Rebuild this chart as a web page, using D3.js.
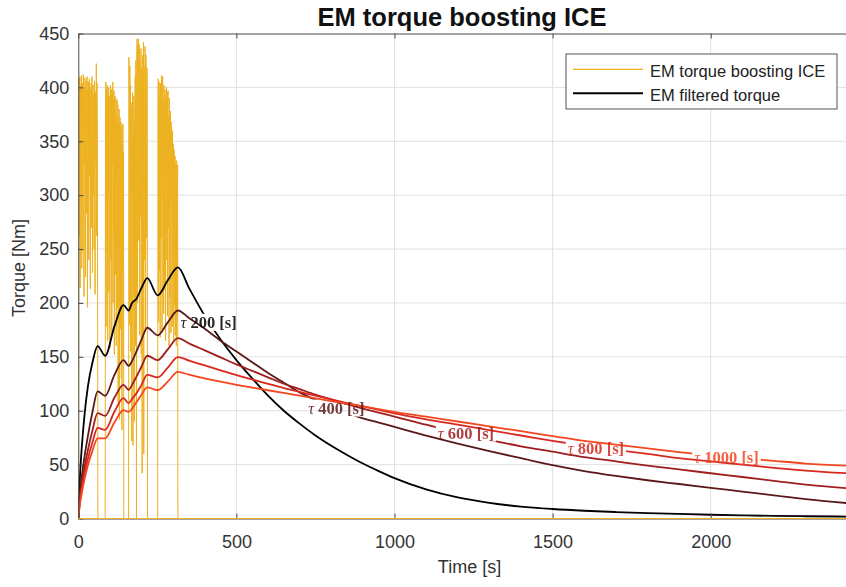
<!DOCTYPE html>
<html>
<head>
<meta charset="utf-8">
<script src="https://cdn.jsdelivr.net/npm/d3@7"></script>
<style>
  body { margin: 0; background: #fff; }
  svg { display: block; }
</style>
</head>
<body>
<svg id="chart" width="846" height="587"></svg>
<script>
// ---- Boost torque bursts, sampled every second (value in Nm) ----
const burst1Start = 0;
const burst1 = [
  0, 190, 408, 262, 398, 410, 214, 402, 385, 296,
  411, 232, 396, 404, 351, 248, 412, 392, 206, 400,
  330, 409, 372, 224, 395, 406, 283, 401, 410, 196,
  398, 362, 405, 240, 392, 408, 318, 400, 213, 397,
  386, 404, 270, 410, 345, 228, 399, 402, 300, 393,
  250, 406, 378, 208, 396, 388, 330, 422, 262, 404,
  357, 240, 0
];
const burst2Start = 85;
const burst2 = [
  0, 372, 405, 178, 398, 260, 402, 395, 165, 384,
  300, 400, 210, 392, 356, 158, 396, 402, 240, 380,
  398, 172, 394, 330, 405, 200, 388, 268, 397, 152,
  385, 392, 226, 378, 390, 160, 372, 340, 388, 195,
  384, 108, 366, 250, 380, 92, 362, 372, 176, 355,
  368, 130, 364, 82, 350, 232, 366, 148, 340, 0
];
const burst3Start = 159;
const burst3 = [
  0, 428, 395, 180, 420, 310, 402, 155, 386, 250,
  72, 380, 300, 395, 68, 360, 210, 392, 90, 372,
  240, 410, 160, 425, 340, 0, 432, 445, 200, 438,
  415, 445, 258, 430, 440, 170, 425, 398, 280, 436,
  152, 418, 402, 42, 395, 430, 215, 442, 60, 420,
  385, 240, 438, 410, 175, 430, 392, 260, 418, 405,
  0
];
const burst4Start = 251;
const burst4 = [
  0, 395, 408, 182, 400, 405, 230, 392, 168, 404,
  386, 260, 411, 398, 175, 406, 410, 300, 390, 190,
  402, 372, 212, 398, 385, 165, 393, 320, 400, 240,
  396, 188, 380, 397, 270, 372, 160, 390, 355, 205,
  378, 362, 172, 368, 292, 355, 178, 360, 240, 348,
  338, 165, 342, 300, 198, 336, 170, 330, 285, 160,
  332, 325, 188, 328, 0
];
const boostEnd = [2430, 0];

// ---- Filtered torque for each time constant ----
const filterTimes = [
  0, 5, 10, 20, 30, 45, 61, 85, 114, 143, 159, 170, 184, 200, 218, 251, 283, 315,
  350, 400, 450, 500, 550, 600, 650, 700, 750, 800, 850, 900, 950,
  1000, 1100, 1200, 1300, 1400, 1500, 1600, 1700, 1800, 1900,
  2000, 2100, 2200, 2300, 2430
];
const tau200 = [
  0, 38, 62, 97, 122, 145, 160, 151, 178, 198, 193, 200, 204, 214, 223, 207, 221, 233,
  214, 188, 166, 147, 130, 114, 100, 88, 77, 67.5, 59, 51, 44,
  37.5, 27, 19.5, 14.5, 11, 8.8, 7.2, 6, 5, 4.2,
  3.5, 2.9, 2.4, 2.1, 1.8
];
const tau400 = [
  0, 22, 36, 58, 76, 99, 118, 113.8, 133, 147, 141.6, 146, 155, 166, 177, 170, 182, 193,
  186, 176, 165, 155, 145, 135, 126, 117, 110, 104, 98, 93, 89,
  85, 77, 69.5, 62.5, 56, 49.5, 44, 39.5, 35.5, 32,
  28.5, 25, 21.5, 18, 14.3
];
const tau600 = [
  0, 18, 30, 48, 63, 82, 97.7, 95.3, 112, 124, 119.4, 124, 131.7, 141, 151, 147, 157, 167.3,
  162.5, 156, 149.5, 143, 137, 131, 125, 120, 115, 110.5, 106, 102, 98.2,
  94.6, 87, 80, 73, 67, 62, 57, 53, 49, 45.5,
  42, 38.5, 35, 31.5, 28.2
];
const tau800 = [
  0, 15, 26, 42, 55, 71, 84, 82.3, 99, 111.7, 107, 111, 116.3, 124, 133.3, 131, 140, 149.7,
  146.5, 142, 137.5, 133, 129, 125, 121, 117.5, 114, 110.5, 107, 104, 100.8,
  97.6, 92, 87, 82, 77, 72, 67.5, 63.5, 60, 56,
  53, 50, 47, 44.5, 42
];
const tau1000 = [
  0, 13, 22, 37, 49, 63, 74.4, 74.4, 89, 100.6, 99, 102, 108, 115, 121.7, 119, 127, 136,
  133.5, 130, 127, 124, 121.5, 119, 116.5, 114, 111.5, 109, 106.5, 104, 101.5,
  99, 94.5, 90, 85.5, 81, 76.5, 72, 68.5, 65, 61.5,
  58.5, 56, 53.5, 51, 49
];

// Inline curve labels: time constant, position on the curve
const tauNames = ["200", "400", "600", "800", "1000"];
const labelTimes = [412, 816, 1226, 1637, 2050];
const labelTorques = [182, 102.5, 79.3, 65.4, 57];

// Axis ticks
const xTicks = [0, 500, 1000, 1500, 2000];
const yTicks = [0, 50, 100, 150, 200, 250, 300, 350, 400, 450];

// ---- Styling ----
const boostColor = "#EDB120";
const tauColors = ["#000000", "#5a1818", "#a01d1d", "#d8281f", "#f4461f"];
const sansFont = "'Liberation Sans', Arial, Helvetica, sans-serif";
const serifFont = "'Liberation Serif', 'Times New Roman', serif";

const svg = d3.select("#chart");
const W = 846, H = 587;
const plotLeft = 78.3, plotTop = 33.5, plotBottom = 518.5;
const pxPerSecond = 0.3162;
const xMax = 2430;

const x = d3.scaleLinear().domain([0, xMax]).range([plotLeft, plotLeft + xMax * pxPerSecond]);
const y = d3.scaleLinear().domain([0, 450]).range([plotBottom, plotTop]);
const plotRight = x(xMax);

svg.append("rect").attr("width", W).attr("height", H).attr("fill", "#fff");

const defs = svg.append("defs");
defs.append("clipPath").attr("id", "plot-clip")
  .append("rect")
  .attr("x", plotLeft).attr("y", plotTop)
  .attr("width", plotRight - plotLeft).attr("height", plotBottom - plotTop);

// Grid
const grid = svg.append("g").attr("stroke", "#e1e1e1").attr("stroke-width", 1);
grid.selectAll("line.h").data(yTicks.filter(v => v > 0 && v < 450)).join("line")
  .attr("x1", plotLeft).attr("x2", plotRight)
  .attr("y1", d => y(d)).attr("y2", d => y(d));
grid.selectAll("line.v").data(xTicks.filter(v => v > 0)).join("line")
  .attr("y1", plotTop).attr("y2", plotBottom)
  .attr("x1", d => x(d)).attr("x2", d => x(d));

// Boost torque trace
const boostPoints = [];
[[burst1Start, burst1], [burst2Start, burst2], [burst3Start, burst3], [burst4Start, burst4]]
  .forEach(([start, vals]) => vals.forEach((v, i) => boostPoints.push([start + i, v])));
boostPoints.push(boostEnd);

const plotG = svg.append("g").attr("clip-path", "url(#plot-clip)");
plotG.append("path")
  .datum(boostPoints)
  .attr("fill", "none")
  .attr("stroke", boostColor)
  .attr("stroke-width", 1)
  .attr("d", d3.line().x(d => x(d[0])).y(d => y(d[1])));

// Labels first (measured to cut gaps into their curves)
const labelG = svg.append("g");
const labelNodes = tauNames.map((name, i) => {
  const t = labelG.append("text")
    .attr("x", x(labelTimes[i]))
    .attr("y", y(labelTorques[i]))
    .attr("text-anchor", "middle")
    .attr("dominant-baseline", "central")
    .attr("font-family", serifFont)
    .attr("font-weight", "bold")
    .attr("font-size", 16.5)
    .attr("fill", tauColors[i])
    .attr("opacity", 0.85);
  t.append("tspan").attr("font-style", "italic").attr("font-weight", "normal").text("\u03C4");
  t.append("tspan").text(" " + name + " [s]");
  return t;
});

const series = [tau200, tau400, tau600, tau800, tau1000];
const curveLine = d3.line()
  .x((d, i) => x(filterTimes[i]))
  .y(d => y(d))
  .curve(d3.curveMonotoneX);

const curveG = plotG.append("g");
series.forEach((vals, i) => {
  const bb = labelNodes[i].node().getBBox();
  const m = defs.append("mask").attr("id", "gap" + i)
    .attr("maskUnits", "userSpaceOnUse")
    .attr("x", 0).attr("y", 0).attr("width", W).attr("height", H);
  m.append("rect").attr("x", 0).attr("y", 0).attr("width", W).attr("height", H).attr("fill", "#fff");
  m.append("rect")
    .attr("x", bb.x - 2).attr("y", bb.y + 1)
    .attr("width", bb.width + 4).attr("height", bb.height - 2)
    .attr("fill", "#000");
  curveG.append("path")
    .datum(vals)
    .attr("fill", "none")
    .attr("stroke", tauColors[i])
    .attr("stroke-width", 1.8)
    .attr("stroke-linejoin", "round")
    .attr("mask", "url(#gap" + i + ")")
    .attr("d", curveLine);
});
labelG.raise();

// Axes
const axisColor = "#4a4a4a";
const xAxis = svg.append("g").attr("transform", `translate(0,${plotBottom})`)
  .call(d3.axisBottom(x).tickValues(xTicks).tickFormat(d3.format("d"))
    .tickSizeInner(-5).tickSizeOuter(0).tickPadding(17));
const xTop = svg.append("g").attr("transform", `translate(0,${plotTop})`)
  .call(d3.axisTop(x).tickValues(xTicks).tickSizeInner(-5).tickSizeOuter(0).tickFormat(""));
const yAxis = svg.append("g").attr("transform", `translate(${plotLeft},0)`)
  .call(d3.axisLeft(y).tickValues(yTicks).tickFormat(d3.format("d"))
    .tickSizeInner(-5).tickSizeOuter(0).tickPadding(9));

[xAxis, xTop, yAxis].forEach(g => {
  g.select(".domain").attr("stroke", axisColor).attr("stroke-width", 1);
  g.selectAll(".tick line").attr("stroke", axisColor);
  g.selectAll(".tick text")
    .attr("fill", "#333")
    .attr("font-family", sansFont)
    .attr("font-size", 18);
});
// Zero segments of the boost trace run along the bottom axis
svg.append("path")
  .datum([[0, 0], [xMax, 0]])
  .attr("stroke", boostColor).attr("stroke-width", 1).attr("fill", "none")
  .attr("d", d3.line().x(d => x(d[0])).y(d => y(d[1])));

// Titles
svg.append("text")
  .attr("x", 462).attr("y", 26)
  .attr("text-anchor", "middle")
  .attr("font-family", sansFont).attr("font-weight", "bold").attr("font-size", 25.5)
  .attr("fill", "#111")
  .text("EM torque boosting ICE");
svg.append("text")
  .attr("x", 469.5).attr("y", 573)
  .attr("text-anchor", "middle")
  .attr("font-family", sansFont).attr("font-size", 18)
  .attr("fill", "#333")
  .text("Time [s]");
svg.append("text")
  .attr("transform", "translate(25,268) rotate(-90)")
  .attr("text-anchor", "middle")
  .attr("font-family", sansFont).attr("font-size", 18)
  .attr("fill", "#333")
  .text("Torque [Nm]");

// Legend
const legend = svg.append("g");
legend.append("rect")
  .attr("x", 566).attr("y", 54).attr("width", 271).attr("height", 55)
  .attr("fill", "#fff").attr("stroke", "#555").attr("stroke-width", 1);
const legendItems = [
  { label: "EM torque boosting ICE", color: boostColor, width: 1.2, y: 69.3, base: 76.5 },
  { label: "EM filtered torque", color: tauColors[0], width: 2, y: 93.3, base: 101 }
];
legendItems.forEach(it => {
  legend.append("line")
    .attr("x1", 573).attr("x2", 643).attr("y1", it.y).attr("y2", it.y)
    .attr("stroke", it.color).attr("stroke-width", it.width);
  legend.append("text")
    .attr("x", 650).attr("y", it.base)
    .attr("font-family", sansFont).attr("font-size", 16.5)
    .attr("fill", "#222")
    .text(it.label);
});
</script>
</body>
</html>
